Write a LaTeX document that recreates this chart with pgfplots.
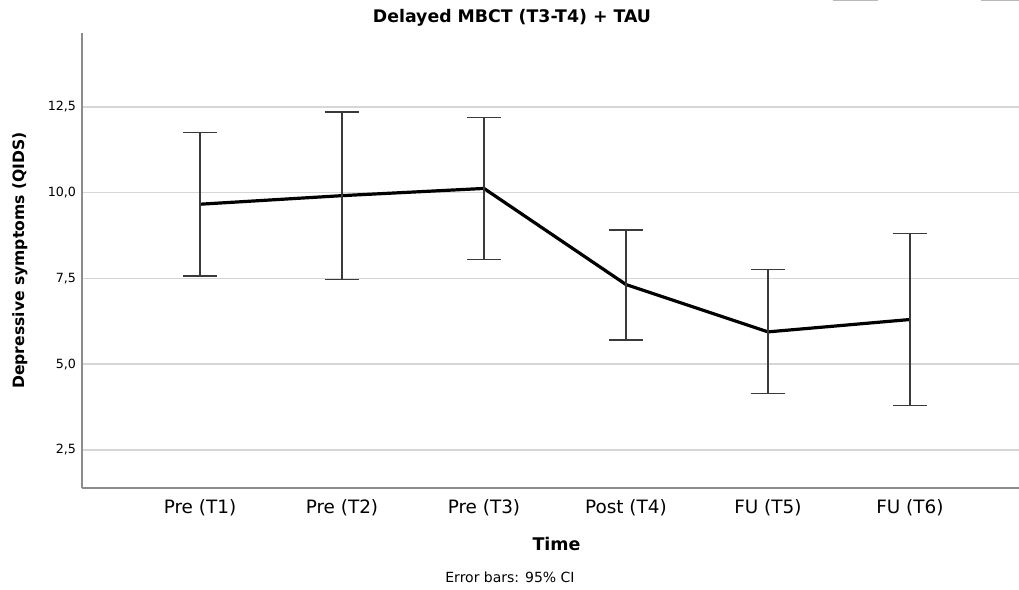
\documentclass[border=0pt]{standalone}
\usepackage{pgfplots}
\pgfplotsset{compat=1.18}
\usepackage{pgfplotstable}
\usepackage{fontspec}
\setmainfont{DejaVu Sans}
\definecolor{gridgray}{HTML}{D6D6D6}
\definecolor{axisgray}{HTML}{8C8C8C}
\definecolor{barcol}{HTML}{3A3A3A}
\pgfplotstableread{
x y ep em
0 9.66 2.09 2.09
1 9.91 2.44 2.45
2 10.12 2.07 2.07
3 7.32 1.59 1.62
4 5.94 1.82 1.79
5 6.30 2.50 2.50
}\qids
\begin{document}
\begin{tikzpicture}
\begin{axis}[
  at={(0,0)}, anchor=south west,
  scale only axis,
  width=702.75pt, height=341.25pt,
  xmin=-0.831, xmax=5.768,
  ymin=1.39, ymax=14.65,
  xtick={0,1,2,3,4,5},
  xticklabels={Pre (T1),Pre (T2),Pre (T3),Post (T4),FU (T5),FU (T6)},
  ytick={2.5,5,7.5,10,12.5},
  yticklabel={\pgfmathprintnumber[fixed,fixed zerofill,precision=1,use comma]{\tick}},
  /pgf/number format/assume math mode=true,
  major tick length=0pt,
  axis x line*=bottom, axis y line*=left,
  axis line style={-, draw=axisgray, line width=1.1pt},
  ymajorgrids, major grid style={draw=gridgray, line width=1.1pt},
  xticklabel style={font=\fontsize{13.8}{16}\selectfont, yshift=-5pt},
  yticklabel style={font=\fontsize{9.5}{11}\selectfont, xshift=-1pt},
  clip=false,
]
\addplot[black, line width=2.4pt, line join=round,
  error bars/.cd, y dir=both, y explicit,
  error bar style={draw=barcol, line width=1.1pt},
  error mark options={draw=barcol, line width=1.1pt, rotate=90, mark size=12.75pt}]
  table[x=x, y=y, y error plus=ep, y error minus=em]{\qids};
\end{axis}
\node[font=\bfseries\fontsize{13}{15}\selectfont] at (322.5pt,352.5pt) {Delayed MBCT (T3-T4) + TAU};
\node[font=\bfseries\fontsize{11.7}{14}\selectfont, rotate=90] at (-46.5pt,170.6pt) {Depressive symptoms (QIDS)};
\node[font=\bfseries\fontsize{13.1}{15}\selectfont] at (355.9pt,-42pt) {Time};
\node[font=\fontsize{10.5}{12}\selectfont] at (321pt,-67pt) {Error bars: 95\% CI};
\draw[gray!55, line width=1.2pt] (563.25pt,365.6pt) -- (597pt,365.6pt);
\draw[gray!55, line width=1.2pt] (674.25pt,365.6pt) -- (702.75pt,365.6pt);
\pgfresetboundingbox
\path[use as bounding box] (-61.5pt,-75.75pt) rectangle (702.75pt,366pt);
\end{tikzpicture}
\end{document}
